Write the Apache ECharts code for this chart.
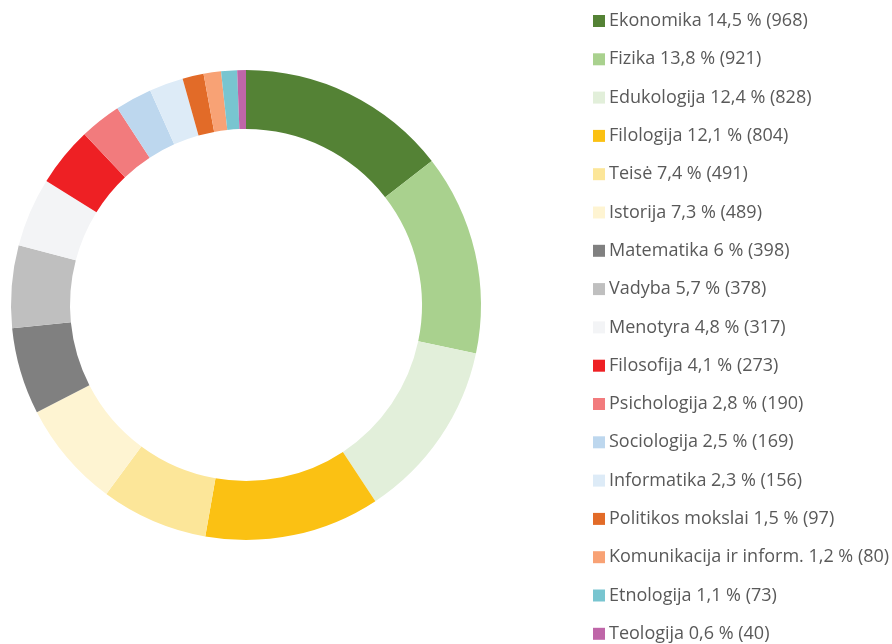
<!DOCTYPE html>
<html>
<head>
<meta charset="utf-8">
<script src="https://cdn.jsdelivr.net/npm/echarts@6/dist/echarts.min.js"></script>
<style>
  html, body { margin: 0; padding: 0; background: #fff; }
  #chart { width: 892px; height: 644px; }
</style>
</head>
<body>
<div id="chart"></div>
<script>
var categories = ['Ekonomika', 'Fizika', 'Edukologija', 'Filologija', 'Teisė', 'Istorija',
    'Matematika', 'Vadyba', 'Menotyra', 'Filosofija', 'Psichologija', 'Sociologija',
    'Informatika', 'Politikos mokslai', 'Komunikacija ir inform.', 'Etnologija', 'Teologija'];
var counts = [968, 921, 828, 804, 491, 489, 398, 378, 317, 273, 190, 169, 156, 97, 80, 73, 40];
var percents = ['14,5', '13,8', '12,4', '12,1', '7,4', '7,3', '6', '5,7', '4,8', '4,1',
    '2,8', '2,5', '2,3', '1,5', '1,2', '1,1', '0,6'];
var colors = ['#548235', '#a9d18e', '#e2efda', '#fbc113', '#fce699', '#fef4d2',
    '#808080', '#bfbfbf', '#f3f4f6', '#ee2024', '#f27b7d', '#bdd7ee',
    '#ddebf7', '#e26b28', '#f8a275', '#78c5d0', '#bf66a8'];

var chart = echarts.init(document.getElementById('chart'));

var data = categories.map(function (name, i) {
    return { name: name, value: counts[i], itemStyle: { color: colors[i] } };
});

chart.setOption({
    animation: false,
    legend: {
        orient: 'vertical',
        left: 593,
        top: 11,
        height: 640,
        padding: 0,
        itemWidth: 12,
        itemHeight: 12,
        itemGap: 18.3,
        icon: 'rect',
        textStyle: {
            fontFamily: 'Open Sans',
            fontSize: 18,
            color: '#595959',
            lineHeight: 20,
            padding: [0, 0, 0, -1]
        },
        formatter: function (name) {
            var i = categories.indexOf(name);
            return name + ' ' + percents[i] + ' % (' + counts[i] + ')';
        }
    },
    series: [{
        type: 'pie',
        center: [246, 305],
        radius: [176, 235],
        startAngle: 90,
        clockwise: true,
        label: { show: false },
        labelLine: { show: false },
        emphasis: { disabled: true },
        data: data
    }]
});
</script>
</body>
</html>
